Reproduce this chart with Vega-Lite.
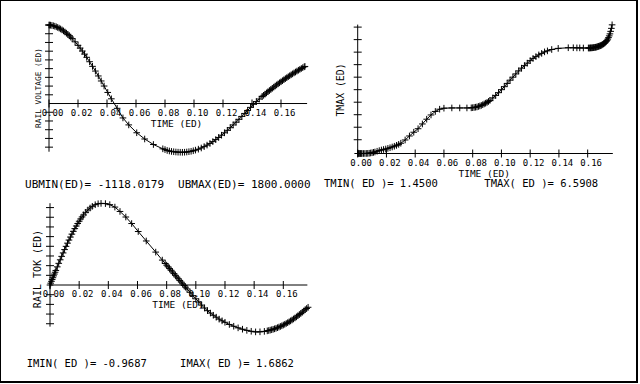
{
  "$schema": "https://vega.github.io/schema/vega-lite/v6.json",
  "width": 637,
  "height": 382,
  "autosize": {"type": "none"},
  "padding": {"left": 0, "top": 0, "right": 3, "bottom": 2},
  "background": "white",
  "config": {
    "view": {"stroke": "black", "strokeWidth": 2},
    "text": {"font": "DejaVu Sans Mono", "color": "black"}
  },
  "resolve": {"scale": {"x": "independent", "y": "independent"}},
  "datasets": {
    "one": [{}],
    "xt": [{"t": 0}, {"t": 0.02}, {"t": 0.04}, {"t": 0.06}, {"t": 0.08}, {"t": 0.10}, {"t": 0.12}, {"t": 0.14}, {"t": 0.16}],
    "volt": [
      {"t": 0, "v": 1800}, {"t": 0.0005, "v": 1798}, {"t": 0.001, "v": 1796}, {"t": 0.002, "v": 1790}, {"t": 0.003, "v": 1782},
      {"t": 0.004, "v": 1772}, {"t": 0.005, "v": 1759}, {"t": 0.006, "v": 1744}, {"t": 0.007, "v": 1728}, {"t": 0.008, "v": 1709},
      {"t": 0.009, "v": 1688}, {"t": 0.010, "v": 1665}, {"t": 0.011, "v": 1640}, {"t": 0.012, "v": 1613}, {"t": 0.013, "v": 1585},
      {"t": 0.014, "v": 1554}, {"t": 0.015, "v": 1522}, {"t": 0.016, "v": 1488}, {"t": 0.018, "v": 1414}, {"t": 0.020, "v": 1334},
      {"t": 0.0215, "v": 1270}, {"t": 0.023, "v": 1203}, {"t": 0.0245, "v": 1133}, {"t": 0.026, "v": 1059}, {"t": 0.028, "v": 958},
      {"t": 0.030, "v": 852}, {"t": 0.032, "v": 744}, {"t": 0.034, "v": 632}, {"t": 0.036, "v": 517}, {"t": 0.038, "v": 401},
      {"t": 0.0405, "v": 254}, {"t": 0.043, "v": 108}, {"t": 0.047, "v": -110}, {"t": 0.051, "v": -330}, {"t": 0.055, "v": -490},
      {"t": 0.0605, "v": -670}, {"t": 0.066, "v": -813}, {"t": 0.072, "v": -939}, {"t": 0.0785, "v": -1038}, {"t": 0.080, "v": -1056},
      {"t": 0.0815, "v": -1076}, {"t": 0.083, "v": -1088}, {"t": 0.0845, "v": -1098}, {"t": 0.086, "v": -1105}, {"t": 0.0875, "v": -1111},
      {"t": 0.089, "v": -1115}, {"t": 0.0905, "v": -1117}, {"t": 0.092, "v": -1118}, {"t": 0.0935, "v": -1116}, {"t": 0.095, "v": -1111},
      {"t": 0.0965, "v": -1104}, {"t": 0.098, "v": -1095}, {"t": 0.0995, "v": -1083}, {"t": 0.101, "v": -1068}, {"t": 0.103, "v": -1046},
      {"t": 0.105, "v": -1019}, {"t": 0.107, "v": -988}, {"t": 0.109, "v": -953}, {"t": 0.111, "v": -915}, {"t": 0.113, "v": -873},
      {"t": 0.115, "v": -827}, {"t": 0.117, "v": -778}, {"t": 0.119, "v": -726}, {"t": 0.121, "v": -671}, {"t": 0.123, "v": -614},
      {"t": 0.125, "v": -554}, {"t": 0.127, "v": -491}, {"t": 0.129, "v": -428}, {"t": 0.131, "v": -362}, {"t": 0.133, "v": -295},
      {"t": 0.135, "v": -227}, {"t": 0.137, "v": -158}, {"t": 0.139, "v": -88}, {"t": 0.141, "v": -18}, {"t": 0.143, "v": 45},
      {"t": 0.145, "v": 103}, {"t": 0.147, "v": 160}, {"t": 0.148, "v": 188}, {"t": 0.149, "v": 216}, {"t": 0.150, "v": 243},
      {"t": 0.151, "v": 270}, {"t": 0.152, "v": 297}, {"t": 0.153, "v": 323}, {"t": 0.154, "v": 349}, {"t": 0.155, "v": 375},
      {"t": 0.156, "v": 401}, {"t": 0.157, "v": 426}, {"t": 0.158, "v": 451}, {"t": 0.159, "v": 475}, {"t": 0.160, "v": 499},
      {"t": 0.161, "v": 523}, {"t": 0.162, "v": 546}, {"t": 0.163, "v": 570}, {"t": 0.164, "v": 592}, {"t": 0.165, "v": 615},
      {"t": 0.166, "v": 637}, {"t": 0.167, "v": 659}, {"t": 0.168, "v": 680}, {"t": 0.169, "v": 702}, {"t": 0.170, "v": 722},
      {"t": 0.171, "v": 743}, {"t": 0.172, "v": 763}, {"t": 0.173, "v": 783}, {"t": 0.174, "v": 803}, {"t": 0.175, "v": 822},
      {"t": 0.176, "v": 841}, {"t": 0.1765, "v": 850}
    ],
    "tmax": [
      {"t": 0, "T": 1.45}, {"t": 0.0005, "T": 1.45}, {"t": 0.001, "T": 1.45}, {"t": 0.0015, "T": 1.45}, {"t": 0.002, "T": 1.45},
      {"t": 0.0025, "T": 1.45}, {"t": 0.003, "T": 1.45}, {"t": 0.004, "T": 1.45}, {"t": 0.005, "T": 1.451}, {"t": 0.006, "T": 1.452},
      {"t": 0.007, "T": 1.455}, {"t": 0.008, "T": 1.46}, {"t": 0.009, "T": 1.47}, {"t": 0.010, "T": 1.48}, {"t": 0.011, "T": 1.495},
      {"t": 0.012, "T": 1.51}, {"t": 0.0135, "T": 1.54}, {"t": 0.015, "T": 1.565}, {"t": 0.0165, "T": 1.59}, {"t": 0.018, "T": 1.61},
      {"t": 0.0195, "T": 1.63}, {"t": 0.021, "T": 1.655}, {"t": 0.0225, "T": 1.68}, {"t": 0.024, "T": 1.71}, {"t": 0.0255, "T": 1.74},
      {"t": 0.027, "T": 1.775}, {"t": 0.0285, "T": 1.815}, {"t": 0.030, "T": 1.86}, {"t": 0.033, "T": 1.99}, {"t": 0.036, "T": 2.15},
      {"t": 0.039, "T": 2.30}, {"t": 0.042, "T": 2.44}, {"t": 0.045, "T": 2.63}, {"t": 0.048, "T": 2.82}, {"t": 0.051, "T": 2.99},
      {"t": 0.054, "T": 3.13}, {"t": 0.057, "T": 3.22}, {"t": 0.060, "T": 3.26}, {"t": 0.0655, "T": 3.27}, {"t": 0.071, "T": 3.27},
      {"t": 0.076, "T": 3.27}, {"t": 0.079, "T": 3.275}, {"t": 0.080, "T": 3.28}, {"t": 0.081, "T": 3.29}, {"t": 0.082, "T": 3.30},
      {"t": 0.083, "T": 3.31}, {"t": 0.084, "T": 3.33}, {"t": 0.085, "T": 3.35}, {"t": 0.086, "T": 3.37}, {"t": 0.087, "T": 3.40},
      {"t": 0.088, "T": 3.43}, {"t": 0.089, "T": 3.46}, {"t": 0.090, "T": 3.49}, {"t": 0.091, "T": 3.53}, {"t": 0.092, "T": 3.57},
      {"t": 0.094, "T": 3.67}, {"t": 0.096, "T": 3.77}, {"t": 0.098, "T": 3.88}, {"t": 0.100, "T": 4.00}, {"t": 0.102, "T": 4.12},
      {"t": 0.104, "T": 4.25}, {"t": 0.106, "T": 4.38}, {"t": 0.108, "T": 4.50}, {"t": 0.110, "T": 4.63}, {"t": 0.112, "T": 4.75},
      {"t": 0.114, "T": 4.86}, {"t": 0.116, "T": 4.96}, {"t": 0.118, "T": 5.06}, {"t": 0.120, "T": 5.16}, {"t": 0.122, "T": 5.25},
      {"t": 0.124, "T": 5.32}, {"t": 0.126, "T": 5.39}, {"t": 0.128, "T": 5.45}, {"t": 0.130, "T": 5.51}, {"t": 0.132, "T": 5.55},
      {"t": 0.135, "T": 5.605}, {"t": 0.1395, "T": 5.65}, {"t": 0.1465, "T": 5.675}, {"t": 0.150, "T": 5.675}, {"t": 0.1525, "T": 5.67},
      {"t": 0.1545, "T": 5.67}, {"t": 0.157, "T": 5.665}, {"t": 0.1605, "T": 5.665}, {"t": 0.161, "T": 5.665}, {"t": 0.1615, "T": 5.665},
      {"t": 0.162, "T": 5.67}, {"t": 0.1625, "T": 5.67}, {"t": 0.163, "T": 5.672}, {"t": 0.1635, "T": 5.675}, {"t": 0.164, "T": 5.68},
      {"t": 0.1645, "T": 5.685}, {"t": 0.165, "T": 5.69}, {"t": 0.1655, "T": 5.695}, {"t": 0.166, "T": 5.70}, {"t": 0.1665, "T": 5.71},
      {"t": 0.167, "T": 5.72}, {"t": 0.1675, "T": 5.73}, {"t": 0.168, "T": 5.74}, {"t": 0.1685, "T": 5.75}, {"t": 0.169, "T": 5.76},
      {"t": 0.1695, "T": 5.775}, {"t": 0.170, "T": 5.79}, {"t": 0.1705, "T": 5.81}, {"t": 0.171, "T": 5.83}, {"t": 0.1715, "T": 5.85},
      {"t": 0.172, "T": 5.87}, {"t": 0.1725, "T": 5.90}, {"t": 0.173, "T": 5.93}, {"t": 0.1735, "T": 5.97}, {"t": 0.174, "T": 6.02},
      {"t": 0.1745, "T": 6.08}, {"t": 0.175, "T": 6.15}, {"t": 0.1755, "T": 6.23}, {"t": 0.176, "T": 6.33}, {"t": 0.1765, "T": 6.45},
      {"t": 0.177, "T": 6.5908}
    ],
    "tok": [
      {"t": 0, "i": 0}, {"t": 0.0005, "i": 0.038}, {"t": 0.001, "i": 0.076}, {"t": 0.0015, "i": 0.113}, {"t": 0.002, "i": 0.151},
      {"t": 0.0025, "i": 0.189}, {"t": 0.003, "i": 0.226}, {"t": 0.0035, "i": 0.264}, {"t": 0.004, "i": 0.301}, {"t": 0.005, "i": 0.375},
      {"t": 0.006, "i": 0.448}, {"t": 0.007, "i": 0.521}, {"t": 0.008, "i": 0.592}, {"t": 0.009, "i": 0.663}, {"t": 0.010, "i": 0.732},
      {"t": 0.011, "i": 0.799}, {"t": 0.012, "i": 0.865}, {"t": 0.013, "i": 0.929}, {"t": 0.014, "i": 0.991}, {"t": 0.015, "i": 1.051},
      {"t": 0.016, "i": 1.109}, {"t": 0.017, "i": 1.165}, {"t": 0.018, "i": 1.219}, {"t": 0.019, "i": 1.270}, {"t": 0.020, "i": 1.318},
      {"t": 0.021, "i": 1.364}, {"t": 0.022, "i": 1.407}, {"t": 0.023, "i": 1.447}, {"t": 0.0245, "i": 1.502}, {"t": 0.026, "i": 1.550},
      {"t": 0.0275, "i": 1.591}, {"t": 0.029, "i": 1.626}, {"t": 0.031, "i": 1.659}, {"t": 0.033, "i": 1.679}, {"t": 0.035, "i": 1.6862},
      {"t": 0.038, "i": 1.682}, {"t": 0.041, "i": 1.66}, {"t": 0.0445, "i": 1.61}, {"t": 0.048, "i": 1.52}, {"t": 0.052, "i": 1.405},
      {"t": 0.056, "i": 1.27}, {"t": 0.0605, "i": 1.105}, {"t": 0.066, "i": 0.91}, {"t": 0.0725, "i": 0.68}, {"t": 0.077, "i": 0.515},
      {"t": 0.079, "i": 0.445}, {"t": 0.080, "i": 0.41}, {"t": 0.081, "i": 0.375}, {"t": 0.082, "i": 0.34}, {"t": 0.083, "i": 0.305},
      {"t": 0.084, "i": 0.27}, {"t": 0.085, "i": 0.235}, {"t": 0.086, "i": 0.20}, {"t": 0.087, "i": 0.165}, {"t": 0.088, "i": 0.13},
      {"t": 0.089, "i": 0.095}, {"t": 0.090, "i": 0.06}, {"t": 0.091, "i": 0.025}, {"t": 0.092, "i": -0.01}, {"t": 0.093, "i": -0.045},
      {"t": 0.094, "i": -0.08}, {"t": 0.096, "i": -0.15}, {"t": 0.098, "i": -0.22}, {"t": 0.100, "i": -0.285}, {"t": 0.102, "i": -0.35},
      {"t": 0.104, "i": -0.415}, {"t": 0.106, "i": -0.475}, {"t": 0.108, "i": -0.53}, {"t": 0.110, "i": -0.58}, {"t": 0.112, "i": -0.625},
      {"t": 0.114, "i": -0.665}, {"t": 0.116, "i": -0.705}, {"t": 0.118, "i": -0.74}, {"t": 0.120, "i": -0.77}, {"t": 0.123, "i": -0.815},
      {"t": 0.126, "i": -0.852}, {"t": 0.129, "i": -0.885}, {"t": 0.132, "i": -0.913}, {"t": 0.135, "i": -0.937}, {"t": 0.138, "i": -0.956},
      {"t": 0.141, "i": -0.9687}, {"t": 0.144, "i": -0.967}, {"t": 0.147, "i": -0.958}, {"t": 0.149, "i": -0.947}, {"t": 0.150, "i": -0.94},
      {"t": 0.151, "i": -0.932}, {"t": 0.152, "i": -0.924}, {"t": 0.153, "i": -0.915}, {"t": 0.154, "i": -0.905}, {"t": 0.155, "i": -0.894},
      {"t": 0.156, "i": -0.882}, {"t": 0.157, "i": -0.869}, {"t": 0.158, "i": -0.856}, {"t": 0.159, "i": -0.842}, {"t": 0.160, "i": -0.827},
      {"t": 0.161, "i": -0.811}, {"t": 0.162, "i": -0.795}, {"t": 0.163, "i": -0.778}, {"t": 0.164, "i": -0.76}, {"t": 0.165, "i": -0.741},
      {"t": 0.166, "i": -0.722}, {"t": 0.167, "i": -0.701}, {"t": 0.168, "i": -0.68}, {"t": 0.169, "i": -0.658}, {"t": 0.170, "i": -0.635},
      {"t": 0.171, "i": -0.611}, {"t": 0.172, "i": -0.587}, {"t": 0.173, "i": -0.562}, {"t": 0.174, "i": -0.537}, {"t": 0.175, "i": -0.511},
      {"t": 0.176, "i": -0.485}, {"t": 0.177, "i": -0.46}
    ]
  },
  "layer": [
    {
      "layer": [
        {"data": {"name": "one"}, "mark": {"type": "rule", "color": "black", "strokeWidth": 1},
         "encoding": {"x": {"datum": 0, "scale": {"domain": [0, 0.178], "range": [49, 307.1], "nice": false, "zero": false}, "axis": null}, "x2": {"datum": 0.178},
                      "y": {"datum": 0, "scale": {"domain": [-1118, 1800], "range": [152.3, 25], "nice": false, "zero": false}, "axis": null}}},
        {"data": {"name": "one"}, "mark": {"type": "rule", "color": "black", "strokeWidth": 1},
         "encoding": {"x": {"datum": 0, "scale": {"domain": [0, 0.178], "range": [49, 307.1], "nice": false, "zero": false}, "axis": null},
                      "y": {"datum": -1105, "scale": {"domain": [-1118, 1800], "range": [152.3, 25], "nice": false, "zero": false}, "axis": null}, "y2": {"datum": 1815}}},
        {"data": {"name": "xt"},
         "mark": {"type": "tick", "orient": "vertical", "size": 8, "thickness": 1, "color": "black", "opacity": 1},
         "encoding": {"x": {"field": "t", "type": "quantitative", "scale": {"domain": [0, 0.178], "range": [49, 307.1], "nice": false, "zero": false}, "axis": null},
                      "y": {"datum": 0, "scale": {"domain": [-1118, 1800], "range": [152.3, 25], "nice": false, "zero": false}, "axis": null}}},
        {"data": {"values": [{"v": -1000}, {"v": -800}, {"v": -600}, {"v": -400}, {"v": -200}, {"v": 200}, {"v": 400}, {"v": 600}, {"v": 800}, {"v": 1000}, {"v": 1200}, {"v": 1400}, {"v": 1600}, {"v": 1800}]},
         "mark": {"type": "tick", "orient": "horizontal", "size": 8, "thickness": 1, "color": "black", "opacity": 1},
         "encoding": {"x": {"datum": 0, "scale": {"domain": [0, 0.178], "range": [49, 307.1], "nice": false, "zero": false}, "axis": null},
                      "y": {"field": "v", "type": "quantitative", "scale": {"domain": [-1118, 1800], "range": [152.3, 25], "nice": false, "zero": false}, "axis": null}}},
        {"data": {"name": "xt"},
         "mark": {"type": "text", "fontSize": 9, "align": "center", "baseline": "middle", "dx": 3.5, "dy": 9},
         "encoding": {"x": {"field": "t", "type": "quantitative", "scale": {"domain": [0, 0.178], "range": [49, 307.1], "nice": false, "zero": false}, "axis": null},
                      "y": {"datum": 0, "scale": {"domain": [-1118, 1800], "range": [152.3, 25], "nice": false, "zero": false}, "axis": null},
                      "text": {"field": "t", "type": "quantitative", "format": ".2f"}}},
        {"data": {"name": "volt"},
         "mark": {"type": "line", "color": "black", "strokeWidth": 1},
         "encoding": {"x": {"field": "t", "type": "quantitative", "scale": {"domain": [0, 0.178], "range": [49, 307.1], "nice": false, "zero": false}, "axis": null},
                      "y": {"field": "v", "type": "quantitative", "scale": {"domain": [-1118, 1800], "range": [152.3, 25], "nice": false, "zero": false}, "axis": null}}},
        {"data": {"name": "volt"},
         "mark": {"type": "point", "shape": "M-1,0H1M0,-1V1", "filled": false, "color": "black", "size": 44, "strokeWidth": 1, "opacity": 1},
         "encoding": {"x": {"field": "t", "type": "quantitative", "scale": {"domain": [0, 0.178], "range": [49, 307.1], "nice": false, "zero": false}, "axis": null},
                      "y": {"field": "v", "type": "quantitative", "scale": {"domain": [-1118, 1800], "range": [152.3, 25], "nice": false, "zero": false}, "axis": null}}},
        {"data": {"name": "one"}, "mark": {"type": "text", "text": "TIME (ED)", "fontSize": 9.5, "align": "center", "baseline": "middle", "dy": 20},
         "encoding": {"x": {"datum": 0.088, "scale": {"domain": [0, 0.178], "range": [49, 307.1], "nice": false, "zero": false}, "axis": null},
                      "y": {"datum": 0, "scale": {"domain": [-1118, 1800], "range": [152.3, 25], "nice": false, "zero": false}, "axis": null}}},
        {"data": {"name": "one"}, "mark": {"type": "text", "text": "RAIL VOLTAGE (ED)", "fontSize": 7.8, "align": "center", "baseline": "middle", "angle": 270},
         "encoding": {"x": {"datum": -0.0072, "scale": {"domain": [0, 0.178], "range": [49, 307.1], "nice": false, "zero": false}, "axis": null},
                      "y": {"datum": 355, "scale": {"domain": [-1118, 1800], "range": [152.3, 25], "nice": false, "zero": false}, "axis": null}}},
        {"data": {"name": "one"}, "mark": {"type": "text", "text": "UBMIN(ED)= -1118.0179", "fontSize": 11, "align": "left", "baseline": "middle"},
         "encoding": {"x": {"datum": -0.01655, "scale": {"domain": [0, 0.178], "range": [49, 307.1], "nice": false, "zero": false}, "axis": null},
                      "y": {"datum": -1868, "scale": {"domain": [-1118, 1800], "range": [152.3, 25], "nice": false, "zero": false}, "axis": null}}},
        {"data": {"name": "one"}, "mark": {"type": "text", "text": "UBMAX(ED)= 1800.0000", "fontSize": 11, "align": "left", "baseline": "middle"},
         "encoding": {"x": {"datum": 0.089, "scale": {"domain": [0, 0.178], "range": [49, 307.1], "nice": false, "zero": false}, "axis": null},
                      "y": {"datum": -1868, "scale": {"domain": [-1118, 1800], "range": [152.3, 25], "nice": false, "zero": false}, "axis": null}}}
      ]
    },
    {
      "layer": [
        {"data": {"name": "one"}, "mark": {"type": "rule", "color": "black", "strokeWidth": 1},
         "encoding": {"x": {"datum": 0, "scale": {"domain": [0, 0.177], "range": [357.7, 612.1], "nice": false, "zero": false}, "axis": null}, "x2": {"datum": 0.1775},
                      "y": {"datum": 1.45, "scale": {"domain": [1.45, 6.6], "range": [153.5, 24.6], "nice": false, "zero": false}, "axis": null}}},
        {"data": {"name": "one"}, "mark": {"type": "rule", "color": "black", "strokeWidth": 1},
         "encoding": {"x": {"datum": 0, "scale": {"domain": [0, 0.177], "range": [357.7, 612.1], "nice": false, "zero": false}, "axis": null},
                      "y": {"datum": 1.45, "scale": {"domain": [1.45, 6.6], "range": [153.5, 24.6], "nice": false, "zero": false}, "axis": null}, "y2": {"datum": 6.6}}},
        {"data": {"name": "xt"},
         "mark": {"type": "tick", "orient": "vertical", "size": 8, "thickness": 1, "color": "black", "opacity": 1},
         "encoding": {"x": {"field": "t", "type": "quantitative", "scale": {"domain": [0, 0.177], "range": [357.7, 612.1], "nice": false, "zero": false}, "axis": null},
                      "y": {"datum": 1.45, "scale": {"domain": [1.45, 6.6], "range": [153.5, 24.6], "nice": false, "zero": false}, "axis": null}}},
        {"data": {"values": [{"T": 2.0}, {"T": 2.5}, {"T": 3.0}, {"T": 3.5}, {"T": 4.0}, {"T": 4.5}, {"T": 5.0}, {"T": 5.5}, {"T": 6.0}, {"T": 6.5}]},
         "mark": {"type": "tick", "orient": "horizontal", "size": 8, "thickness": 1, "color": "black", "opacity": 1},
         "encoding": {"x": {"datum": 0, "scale": {"domain": [0, 0.177], "range": [357.7, 612.1], "nice": false, "zero": false}, "axis": null},
                      "y": {"field": "T", "type": "quantitative", "scale": {"domain": [1.45, 6.6], "range": [153.5, 24.6], "nice": false, "zero": false}, "axis": null}}},
        {"data": {"name": "xt"},
         "mark": {"type": "text", "fontSize": 9, "align": "center", "baseline": "middle", "dx": 3.5, "dy": 9},
         "encoding": {"x": {"field": "t", "type": "quantitative", "scale": {"domain": [0, 0.177], "range": [357.7, 612.1], "nice": false, "zero": false}, "axis": null},
                      "y": {"datum": 1.45, "scale": {"domain": [1.45, 6.6], "range": [153.5, 24.6], "nice": false, "zero": false}, "axis": null},
                      "text": {"field": "t", "type": "quantitative", "format": ".2f"}}},
        {"data": {"name": "tmax"},
         "mark": {"type": "line", "color": "black", "strokeWidth": 1},
         "encoding": {"x": {"field": "t", "type": "quantitative", "scale": {"domain": [0, 0.177], "range": [357.7, 612.1], "nice": false, "zero": false}, "axis": null},
                      "y": {"field": "T", "type": "quantitative", "scale": {"domain": [1.45, 6.6], "range": [153.5, 24.6], "nice": false, "zero": false}, "axis": null}}},
        {"data": {"name": "tmax"},
         "mark": {"type": "point", "shape": "M-1,0H1M0,-1V1", "filled": false, "color": "black", "size": 44, "strokeWidth": 1, "opacity": 1},
         "encoding": {"x": {"field": "t", "type": "quantitative", "scale": {"domain": [0, 0.177], "range": [357.7, 612.1], "nice": false, "zero": false}, "axis": null},
                      "y": {"field": "T", "type": "quantitative", "scale": {"domain": [1.45, 6.6], "range": [153.5, 24.6], "nice": false, "zero": false}, "axis": null}}},
        {"data": {"name": "one"}, "mark": {"type": "text", "text": "TIME (ED)", "fontSize": 9.5, "align": "center", "baseline": "middle", "dy": 20.5},
         "encoding": {"x": {"datum": 0.088, "scale": {"domain": [0, 0.177], "range": [357.7, 612.1], "nice": false, "zero": false}, "axis": null},
                      "y": {"datum": 1.45, "scale": {"domain": [1.45, 6.6], "range": [153.5, 24.6], "nice": false, "zero": false}, "axis": null}}},
        {"data": {"name": "one"}, "mark": {"type": "text", "text": "TMAX (ED)", "fontSize": 9.8, "align": "center", "baseline": "middle", "angle": 270},
         "encoding": {"x": {"datum": -0.0116, "scale": {"domain": [0, 0.177], "range": [357.7, 612.1], "nice": false, "zero": false}, "axis": null},
                      "y": {"datum": 3.987, "scale": {"domain": [1.45, 6.6], "range": [153.5, 24.6], "nice": false, "zero": false}, "axis": null}}},
        {"data": {"name": "one"}, "mark": {"type": "text", "text": "TMIN( ED )= 1.4500", "fontSize": 10.5, "align": "left", "baseline": "middle"},
         "encoding": {"x": {"datum": -0.02344, "scale": {"domain": [0, 0.177], "range": [357.7, 612.1], "nice": false, "zero": false}, "axis": null},
                      "y": {"datum": 0.2315, "scale": {"domain": [1.45, 6.6], "range": [153.5, 24.6], "nice": false, "zero": false}, "axis": null}}},
        {"data": {"name": "one"}, "mark": {"type": "text", "text": "TMAX( ED )= 6.5908", "fontSize": 10.5, "align": "left", "baseline": "middle"},
         "encoding": {"x": {"datum": 0.0881, "scale": {"domain": [0, 0.177], "range": [357.7, 612.1], "nice": false, "zero": false}, "axis": null},
                      "y": {"datum": 0.2315, "scale": {"domain": [1.45, 6.6], "range": [153.5, 24.6], "nice": false, "zero": false}, "axis": null}}}
      ]
    },
    {
      "layer": [
        {"data": {"name": "one"}, "mark": {"type": "rule", "color": "black", "strokeWidth": 1},
         "encoding": {"x": {"datum": 0, "scale": {"domain": [0, 0.177], "range": [50, 308.1], "nice": false, "zero": false}, "axis": null}, "x2": {"datum": 0.1765},
                      "y": {"datum": 0, "scale": {"domain": [-0.9687, 1.6862], "range": [331.9, 203.4], "nice": false, "zero": false}, "axis": null}}},
        {"data": {"name": "one"}, "mark": {"type": "rule", "color": "black", "strokeWidth": 1},
         "encoding": {"x": {"datum": 0, "scale": {"domain": [0, 0.177], "range": [50, 308.1], "nice": false, "zero": false}, "axis": null},
                      "y": {"datum": -0.86, "scale": {"domain": [-0.9687, 1.6862], "range": [331.9, 203.4], "nice": false, "zero": false}, "axis": null}, "y2": {"datum": 1.69}}},
        {"data": {"name": "xt"},
         "mark": {"type": "tick", "orient": "vertical", "size": 8, "thickness": 1, "color": "black", "opacity": 1},
         "encoding": {"x": {"field": "t", "type": "quantitative", "scale": {"domain": [0, 0.177], "range": [50, 308.1], "nice": false, "zero": false}, "axis": null},
                      "y": {"datum": 0, "scale": {"domain": [-0.9687, 1.6862], "range": [331.9, 203.4], "nice": false, "zero": false}, "axis": null}}},
        {"data": {"values": [{"i": -0.8}, {"i": -0.6}, {"i": -0.4}, {"i": -0.2}, {"i": 0.2}, {"i": 0.4}, {"i": 0.6}, {"i": 0.8}, {"i": 1.0}, {"i": 1.2}, {"i": 1.4}, {"i": 1.6}]},
         "mark": {"type": "tick", "orient": "horizontal", "size": 8, "thickness": 1, "color": "black", "opacity": 1},
         "encoding": {"x": {"datum": 0, "scale": {"domain": [0, 0.177], "range": [50, 308.1], "nice": false, "zero": false}, "axis": null},
                      "y": {"field": "i", "type": "quantitative", "scale": {"domain": [-0.9687, 1.6862], "range": [331.9, 203.4], "nice": false, "zero": false}, "axis": null}}},
        {"data": {"name": "xt"},
         "mark": {"type": "text", "fontSize": 9, "align": "center", "baseline": "middle", "dx": 3.5, "dy": 9},
         "encoding": {"x": {"field": "t", "type": "quantitative", "scale": {"domain": [0, 0.177], "range": [50, 308.1], "nice": false, "zero": false}, "axis": null},
                      "y": {"datum": 0, "scale": {"domain": [-0.9687, 1.6862], "range": [331.9, 203.4], "nice": false, "zero": false}, "axis": null},
                      "text": {"field": "t", "type": "quantitative", "format": ".2f"}}},
        {"data": {"name": "tok"},
         "mark": {"type": "line", "color": "black", "strokeWidth": 1},
         "encoding": {"x": {"field": "t", "type": "quantitative", "scale": {"domain": [0, 0.177], "range": [50, 308.1], "nice": false, "zero": false}, "axis": null},
                      "y": {"field": "i", "type": "quantitative", "scale": {"domain": [-0.9687, 1.6862], "range": [331.9, 203.4], "nice": false, "zero": false}, "axis": null}}},
        {"data": {"name": "tok"},
         "mark": {"type": "point", "shape": "M-1,0H1M0,-1V1", "filled": false, "color": "black", "size": 44, "strokeWidth": 1, "opacity": 1},
         "encoding": {"x": {"field": "t", "type": "quantitative", "scale": {"domain": [0, 0.177], "range": [50, 308.1], "nice": false, "zero": false}, "axis": null},
                      "y": {"field": "i", "type": "quantitative", "scale": {"domain": [-0.9687, 1.6862], "range": [331.9, 203.4], "nice": false, "zero": false}, "axis": null}}},
        {"data": {"name": "one"}, "mark": {"type": "text", "text": "TIME (ED)", "fontSize": 9.5, "align": "center", "baseline": "middle", "dy": 20},
         "encoding": {"x": {"datum": 0.0878, "scale": {"domain": [0, 0.177], "range": [50, 308.1], "nice": false, "zero": false}, "axis": null},
                      "y": {"datum": 0, "scale": {"domain": [-0.9687, 1.6862], "range": [331.9, 203.4], "nice": false, "zero": false}, "axis": null}}},
        {"data": {"name": "one"}, "mark": {"type": "text", "text": "RAIL TOK (ED)", "fontSize": 10, "align": "center", "baseline": "middle", "angle": 270},
         "encoding": {"x": {"datum": -0.008, "scale": {"domain": [0, 0.177], "range": [50, 308.1], "nice": false, "zero": false}, "axis": null},
                      "y": {"datum": 0.331, "scale": {"domain": [-0.9687, 1.6862], "range": [331.9, 203.4], "nice": false, "zero": false}, "axis": null}}},
        {"data": {"name": "one"}, "mark": {"type": "text", "text": "IMIN( ED )= -0.9687", "fontSize": 10.5, "align": "left", "baseline": "middle"},
         "encoding": {"x": {"datum": -0.016, "scale": {"domain": [0, 0.177], "range": [50, 308.1], "nice": false, "zero": false}, "axis": null},
                      "y": {"datum": -1.632, "scale": {"domain": [-0.9687, 1.6862], "range": [331.9, 203.4], "nice": false, "zero": false}, "axis": null}}},
        {"data": {"name": "one"}, "mark": {"type": "text", "text": "IMAX( ED )= 1.6862", "fontSize": 10.5, "align": "left", "baseline": "middle"},
         "encoding": {"x": {"datum": 0.0892, "scale": {"domain": [0, 0.177], "range": [50, 308.1], "nice": false, "zero": false}, "axis": null},
                      "y": {"datum": -1.632, "scale": {"domain": [-0.9687, 1.6862], "range": [331.9, 203.4], "nice": false, "zero": false}, "axis": null}}}
      ]
    }
  ]
}
